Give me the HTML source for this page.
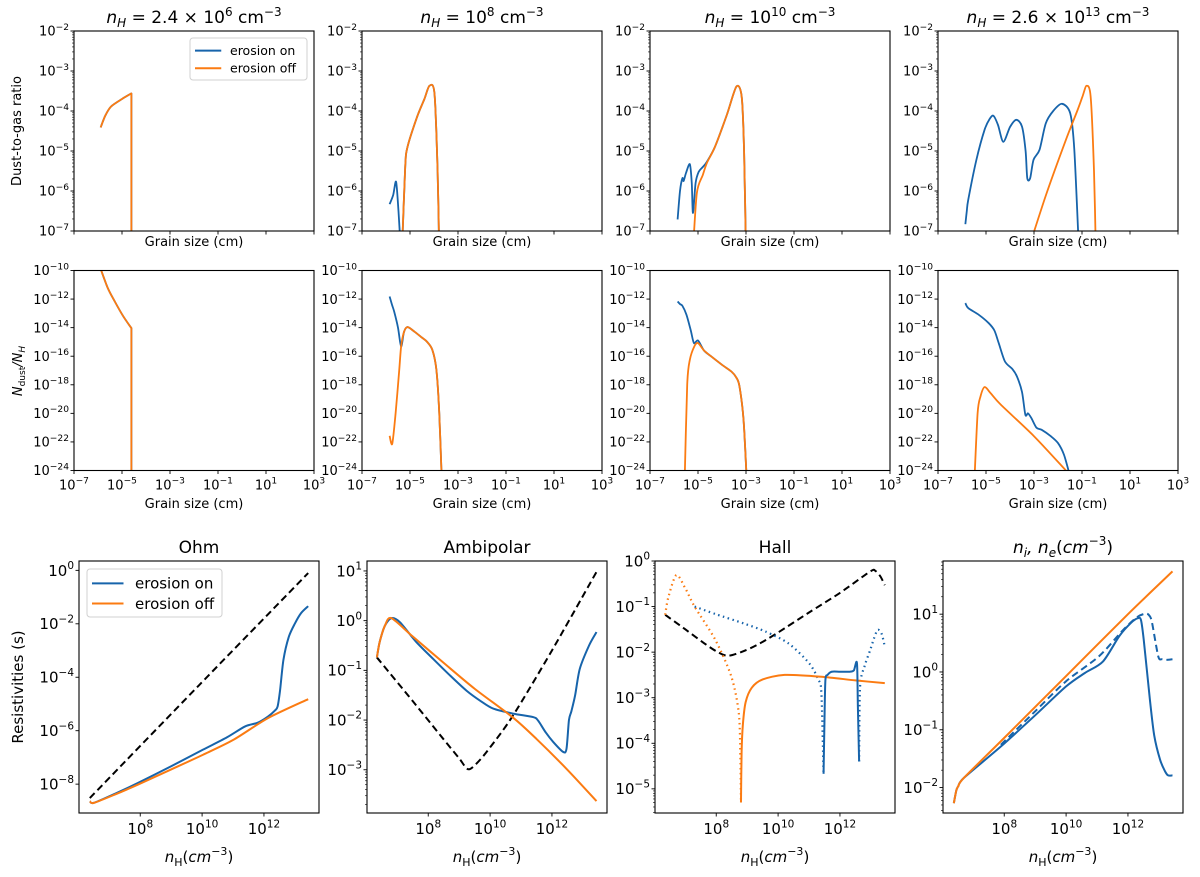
<!DOCTYPE html>
<html><head><meta charset="utf-8"><style>
html,body{margin:0;padding:0;background:#fff;}
svg{display:block;font-family:"DejaVu Sans","Liberation Sans",sans-serif;}
</style></head><body>
<svg id="fig" width="1200" height="877" viewBox="0 0 1200 877" xmlns="http://www.w3.org/2000/svg"></svg>
<script>
// ---------- DATA (log10 values) ----------
const p1TopX=[-5.89,-5.7,-5.46,-5.0,-4.61,-4.61];
const p1TopY=[-4.41,-4.12,-3.89,-3.7,-3.56,-7.6];
const p1BotX=[-5.95,-5.6,-5.3,-4.95,-4.61,-4.61];
const p1BotY=[-9.6,-11.2,-12.17,-13.2,-14.03,-25];
const p2TopOnX=[-5.85,-5.7,-5.58,-5.48,-5.37,-5.34,-5.2,-5.1,-4.7,-4.4,-4.19,-3.98,-3.85,-3.78];
const p2TopOnY=[-6.33,-6.1,-5.77,-6.5,-7.6,-7.6,-5.4,-4.89,-4.14,-3.7,-3.37,-3.56,-5.5,-7.6];
const p2TopOffX=[-5.34,-5.2,-5.1,-4.7,-4.4,-4.19,-3.98,-3.85,-3.78];
const p2TopOffY=[-7.6,-5.4,-4.89,-4.14,-3.7,-3.37,-3.56,-5.5,-7.6];
const p2BotOnX=[-5.85,-5.75,-5.66,-5.5,-5.37,-5.25,-5.1,-4.8,-4.5,-4.3,-4.07,-3.9,-3.78,-3.67];
const p2BotOnY=[-11.82,-12.4,-12.87,-14.0,-15.32,-14.3,-13.96,-14.3,-14.7,-14.97,-15.55,-16.95,-20,-25];
const p2BotOffX=[-5.85,-5.74,-5.6,-5.45,-5.37,-5.25,-5.1,-4.8,-4.5,-4.3,-4.07,-3.9,-3.78,-3.67];
const p2BotOffY=[-21.57,-22.13,-20,-17,-15.32,-14.3,-13.96,-14.3,-14.7,-14.97,-15.55,-16.95,-20,-25];
const p3TopOnX=[-5.85,-5.75,-5.65,-5.6,-5.5,-5.34,-5.26,-5.21,-5.1,-4.97,-4.8,-4.63,-4.29,-3.8,-3.40,-3.18,-3.08,-3.0];
const p3TopOnY=[-6.71,-6.0,-5.68,-5.75,-5.55,-5.33,-5.8,-6.55,-5.8,-5.52,-5.4,-5.27,-4.89,-4.1,-3.39,-3.64,-5.0,-7.6];
const p3TopOffX=[-5.22,-5.05,-4.8,-4.63,-4.29,-3.8,-3.40,-3.18,-3.08,-3.0];
const p3TopOffY=[-7.6,-6.06,-5.6,-5.3,-4.89,-4.1,-3.39,-3.64,-5.0,-7.6];
const p3BotOnX=[-5.85,-5.75,-5.65,-5.48,-5.3,-5.17,-5.0,-4.75,-4.46,-4.0,-3.61,-3.4,-3.27,-3.1,-2.96];
const p3BotOnY=[-12.17,-12.35,-12.47,-13.1,-14.2,-15.08,-14.9,-15.6,-16.0,-16.6,-17.07,-17.5,-18.12,-20.5,-25];
const p3BotOffX=[-5.56,-5.45,-5.34,-5.15,-5.0,-4.75,-4.46,-4.0,-3.61,-3.4,-3.27,-3.1,-2.96];
const p3BotOffY=[-25,-18,-16.25,-15.3,-15.08,-15.6,-16.0,-16.6,-17.07,-17.5,-18.12,-20.5,-25];
const p4TopOnX=[-5.86,-5.8,-5.74,-5.4,-5.06,-4.85,-4.69,-4.5,-4.28,-4.0,-3.74,-3.5,-3.35,-3.28,-3.16,-3.02,-2.77,-2.51,-2.2,-1.83,-1.49,-1.32,-1.12];
const p4TopOnY=[-6.83,-6.5,-6.22,-5.22,-4.47,-4.2,-4.12,-4.35,-4.77,-4.4,-4.22,-4.39,-5.0,-5.68,-5.68,-5.22,-4.97,-4.31,-4.0,-3.82,-4.06,-4.97,-7.6];
const p4TopOffX=[-3.31,-2.5,-1.67,-1.2,-0.98,-0.81,-0.64,-0.5,-0.42];
const p4TopOffY=[-7.6,-6.1,-4.72,-4.0,-3.64,-3.37,-3.64,-5.5,-7.6];
const p4BotOnX=[-5.86,-5.74,-5.3,-4.89,-4.65,-4.47,-4.21,-3.9,-3.71,-3.5,-3.36,-3.25,-3.11,-2.9,-2.68,-2.3,-2.0,-1.75,-1.53];
const p4BotOnY=[-12.28,-12.63,-13.1,-13.68,-14.2,-15.08,-16.37,-16.9,-17.42,-18.5,-20.1,-20.0,-20.33,-21.0,-21.15,-21.6,-22.08,-22.9,-24.2];
const p4BotOffX=[-5.49,-5.35,-5.23,-5.06,-4.8,-4.38,-3.0,-1.67,-1.5];
const p4BotOffY=[-25,-20,-18.82,-18.16,-18.6,-19.4,-21.6,-24,-24.3];
const ohmIdealX=[6.37,9.9,13.43];
const ohmIdealY=[-8.52,-4.3,-0.10];
const ohmOnX=[6.37,6.5,7.2,7.92,9.0,10.03,10.8,11.39,11.8,12.13,12.35,12.44,12.52,12.63,12.8,13.0,13.2,13.43];
const ohmOnY=[-8.64,-8.70,-8.35,-7.96,-7.33,-6.71,-6.25,-5.84,-5.7,-5.47,-5.25,-5.1,-4.5,-3.35,-2.5,-1.99,-1.6,-1.34];
const ohmOffX=[6.37,6.5,7.2,7.92,9.0,10.03,11.0,12.13,13.43];
const ohmOffY=[-8.64,-8.70,-8.38,-8.02,-7.45,-6.9,-6.35,-5.53,-4.82];
const ambIdealX=[6.34,7.5,8.5,9.0,9.29,9.6,10.0,10.74,12.0,13.44];
const ambIdealY=[-0.74,-1.62,-2.39,-2.77,-2.99,-2.85,-2.55,-1.91,-0.6,0.98];
const ambOnX=[6.34,6.43,6.6,6.81,7.08,7.6,8.16,8.7,9.24,9.7,10.10,10.74,11.39,11.55,11.8,12.04,12.36,12.47,12.55,12.63,12.75,12.9,13.2,13.44];
const ambOnY=[-0.74,-0.43,-0.1,0.05,-0.03,-0.42,-0.77,-1.1,-1.41,-1.62,-1.77,-1.87,-1.94,-2.01,-2.25,-2.44,-2.64,-2.58,-2.0,-1.82,-1.5,-0.97,-0.5,-0.23];
const ambOffX=[6.34,6.43,6.6,6.81,7.5,8.5,9.5,10.74,11.5,12.5,13.44];
const ambOffY=[-0.74,-0.43,-0.1,0.05,-0.32,-0.85,-1.37,-1.95,-2.38,-3.0,-3.63];
const hallIdealX=[6.35,7.0,7.6,8.0,8.36,8.8,9.3,9.95,11.0,12.0,12.98,13.15,13.31,13.45];
const hallIdealY=[-1.18,-1.5,-1.8,-1.98,-2.08,-2.0,-1.85,-1.59,-1.13,-0.7,-0.23,-0.22,-0.34,-0.53];
const hallOffNegX=[6.35,6.45,6.71,7.0,7.30,7.97,8.49,8.73,8.78,8.80];
const hallOffNegY=[-1.18,-0.8,-0.31,-0.6,-1.0,-1.73,-2.54,-3.34,-4.3,-5.3];
const hallOffPosX=[8.80,8.82,8.86,8.95,9.15,9.5,10.21,11.40,12.5,13.45];
const hallOffPosY=[-5.3,-4.2,-3.6,-3.1,-2.78,-2.6,-2.5,-2.54,-2.62,-2.68];
const hallOnNeg1X=[7.30,8.0,8.89,9.6,10.34,11.0,11.3,11.40,11.47];
const hallOnNeg1Y=[-1.0,-1.17,-1.37,-1.55,-1.81,-2.24,-2.6,-2.90,-4.67];
const hallOnPosX=[11.47,11.50,11.53,11.6,11.73,12.0,12.32,12.45,12.55,12.58,12.62];
const hallOnPosY=[-4.67,-3.5,-2.61,-2.5,-2.43,-2.43,-2.43,-2.4,-2.24,-3.2,-4.40];
const hallOnNeg2X=[12.62,12.65,12.8,12.98,13.1,13.22,13.35,13.45];
const hallOnNeg2Y=[-4.40,-2.76,-2.3,-1.95,-1.7,-1.51,-1.6,-1.88];
const nOffX=[6.37,6.45,6.51,6.70,8.0,10.0,12.0,13.44];
const nOffY=[-2.27,-2.05,-1.98,-1.83,-1.14,-0.07,1.0,1.74];
const nOnSolidX=[6.37,6.45,6.51,6.70,7.89,9.0,10.0,10.6,11.19,11.72,12.1,12.32,12.42,12.51,12.71,12.85,13.04,13.2,13.30,13.44];
const nOnSolidY=[-2.27,-2.05,-1.98,-1.83,-1.29,-0.75,-0.25,-0.02,0.18,0.62,0.85,0.93,0.9,0.56,-0.48,-1.1,-1.52,-1.72,-1.79,-1.79];
const nOnDashX=[7.89,9.0,10.0,11.06,11.85,12.3,12.58,12.7,12.78,12.98,13.1,13.24,13.44];
const nOnDashY=[-1.26,-0.68,-0.16,0.27,0.73,0.95,1.01,0.97,0.85,0.27,0.22,0.21,0.22];
const topXTicks=[-7,-5,-3,-1,1,3];
const row1YTicks=[-2,-3,-4,-5,-6,-7];
const row2YTicks=[-10,-12,-14,-16,-18,-20,-22,-24];
const botXTicks=[8,10,12];

// ---------- RENDER ----------
const NS="http://www.w3.org/2000/svg";
const svg=document.getElementById('fig');
const BLUE="#1764ab", ORANGE="#fb7b12";
function el(tag,attrs,parent){const e=document.createElementNS(NS,tag);for(const k in attrs)e.setAttribute(k,attrs[k]);(parent||svg).appendChild(e);return e;}
function pow10(parent,x,y,exp,size,anchor){
  const t=el('text',{x:x,y:y,'font-size':size,'text-anchor':anchor,fill:'#000'},parent);
  
  
  const a=document.createElementNS(NS,'tspan');a.textContent='10';t.appendChild(a);
  const b=document.createElementNS(NS,'tspan');b.setAttribute('dy',-size*0.45);b.setAttribute('font-size',size*0.7);
  b.textContent=String(exp).replace('-','\u2212');t.appendChild(b);
  return t;
}
let clipId=0;
function panel(name,x0,y0,w,h,xmin,xmax,ymin,ymax){
  const g=el('g',{});
  
  
  const P={g,x0,y0,w,h,xmin,xmax,ymin,ymax,
    fx:v=>x0+(v-xmin)/(xmax-xmin)*w, fy:v=>y0+h-(v-ymin)/(ymax-ymin)*h};
  const cid='c'+(clipId++);
  const cp=el('clipPath',{id:cid},g);el('rect',{x:x0,y:y0,width:w,height:h},cp);
  P.plot=el('g',{'clip-path':'url(#'+cid+')'},g);
  return P;
}
function frame(P){el('rect',{x:P.x0,y:P.y0,width:P.w,height:P.h,fill:'none',stroke:'#000','stroke-width':1.1},P.g);}
function smoothPath(pts){
  let d='M'+pts[0][0].toFixed(2)+','+pts[0][1].toFixed(2);
  const k=0.14;
  const vert=(a,b)=>Math.abs(a[0]-b[0])<0.01;
  for(let i=0;i<pts.length-1;i++){
    const p0=pts[Math.max(0,i-1)],p1=pts[i],p2=pts[i+1],p3=pts[Math.min(pts.length-1,i+2)];
    if(vert(p1,p2)){d+=' L'+p2[0].toFixed(2)+','+p2[1].toFixed(2);continue;}
    let c1=[p1[0]+(p2[0]-p0[0])*k,p1[1]+(p2[1]-p0[1])*k];
    let c2=[p2[0]-(p3[0]-p1[0])*k,p2[1]-(p3[1]-p1[1])*k];
    if(i>0&&vert(p0,p1))c1=p1;
    if(i+2<pts.length&&vert(p2,p3))c2=p2;
    d+=' C'+c1[0].toFixed(2)+','+c1[1].toFixed(2)+' '+c2[0].toFixed(2)+','+c2[1].toFixed(2)+' '+p2[0].toFixed(2)+','+p2[1].toFixed(2);
  }
  return d;
}
function line(P,xs,ys,color,name,dash,width){
  const pts=xs.map((v,i)=>[P.fx(v),P.fy(ys[i])]);
  const a={d:smoothPath(pts),fill:'none',stroke:color,'stroke-width':width||1.8,'stroke-linejoin':'round'};
  if(dash)a['stroke-dasharray']=dash;
  const pl=el('path',a,P.plot);
  
  
}
function yTicks(P,ticks,size,minor){
  ticks.forEach(t=>{const y=P.fy(t);el('line',{x1:P.x0-3.5,x2:P.x0,y1:y,y2:y,stroke:'#000','stroke-width':0.9},P.g);
    pow10(P.g,P.x0-5,y+size*0.36,t,size,'end');});
  if(minor){for(let d=Math.floor(P.ymin);d<Math.ceil(P.ymax);d++){for(let m=2;m<10;m++){const v=d+Math.log10(m);
    if(v>P.ymin&&v<P.ymax){const y=P.fy(v);el('line',{x1:P.x0-2,x2:P.x0,y1:y,y2:y,stroke:'#000','stroke-width':0.6},P.g);}}}}
}
function xTicks(P,ticks,size,labels){
  ticks.forEach(t=>{const x=P.fx(t);el('line',{x1:x,x2:x,y1:P.y0+P.h,y2:P.y0+P.h+3.5,stroke:'#000','stroke-width':0.9},P.g);
    if(labels)pow10(P.g,x,P.y0+P.h+size+6,t,size,'middle');});
}
function text(x,y,str,size,name,anchor,rot){
  const a={x:x,y:y,'font-size':size,'text-anchor':anchor||'middle',fill:'#000'};
  if(rot)a.transform='rotate(-90 '+x+' '+y+')';
  const t=el('text',a);t.textContent=str;
  
  
  return t;
}
function titleNH(cx,y,mant,exp,name){
  const t=el('text',{x:cx,y:y,'font-size':17,'text-anchor':'middle',fill:'#000'});
  
  
  const parts=[['n','italic',0,17],['H','italic',4,12],[' = '+(mant?mant+' \u00d7 ':'')+'10','normal',-4,17],[String(exp),'normal',-7,12],[' cm','normal',7,17],['\u22123','normal',-7,12]];
  parts.forEach(p=>{const s=document.createElementNS(NS,'tspan');s.textContent=p[0];s.setAttribute('font-style',p[1]);s.setAttribute('dy',p[2]);s.setAttribute('font-size',p[3]);t.appendChild(s);});
}
function legend(x,y,w,h,size,name){
  const g=el('g',{});
  
  
  el('rect',{x:x,y:y,width:w,height:h,rx:3,fill:'#fff',stroke:'#d0d0d0','stroke-width':1},g);
  [['erosion on',BLUE],['erosion off',ORANGE]].forEach((e,i)=>{
    const yy=y+h*(0.3+0.42*i);
    const ln=el('line',{x1:x+5,x2:x+5+size*2.1,y1:yy,y2:yy,stroke:e[1],'stroke-width':2},g);
    
    
    const t=el('text',{x:x+size*3.2,y:yy+size*0.35,'font-size':size,fill:'#000'},g);t.textContent=e[0];
    
    
  });
}

const topX=[74,362,650,938], W=240;
const topData=[
  [[p1TopX,p1TopY,p1TopX,p1TopY],[p1BotX,p1BotY,p1BotX,p1BotY]],
  [[p2TopOnX,p2TopOnY,p2TopOffX,p2TopOffY],[p2BotOnX,p2BotOnY,p2BotOffX,p2BotOffY]],
  [[p3TopOnX,p3TopOnY,p3TopOffX,p3TopOffY],[p3BotOnX,p3BotOnY,p3BotOffX,p3BotOffY]],
  [[p4TopOnX,p4TopOnY,p4TopOffX,p4TopOffY],[p4BotOnX,p4BotOnY,p4BotOffX,p4BotOffY]]];
const titles=[['2.4',6],['',8],['',10],['2.6',13]];
topX.forEach((x0,i)=>{
  const A=panel('dust-to-gas-panel-'+(i+1),x0,31,W,200,-7,3,-7,-2);
  const d=topData[i][0];
  line(A,d[0],d[1],BLUE,'erosion-on-line');line(A,d[2],d[3],ORANGE,'erosion-off-line');
  frame(A);yTicks(A,row1YTicks,13,true);xTicks(A,topXTicks,13,false);
  text(x0+W/2,246,'Grain size (cm)',13,'x-axis-title');
  titleNH(x0+W/2,23,titles[i][0],titles[i][1],'panel-title');
  const B=panel('ndust-panel-'+(i+1),x0,270.5,W,200,-7,3,-24,-10);
  const e=topData[i][1];
  line(B,e[0],e[1],BLUE,'erosion-on-line');line(B,e[2],e[3],ORANGE,'erosion-off-line');
  frame(B);yTicks(B,row2YTicks,13,false);xTicks(B,topXTicks,13,true);
  text(x0+W/2,508,'Grain size (cm)',13,'x-axis-title');
});
legend(190,38,117,42,12.5,'legend-top');
text(21,131,'Dust-to-gas ratio',13,'y-axis-title','middle',true);
(function(){const t=el('text',{x:22,y:371,'font-size':13,'text-anchor':'middle',transform:'rotate(-90 22 371)'});
  
  
  [['N','italic',0,13],['dust','normal',3,9],['/','italic',-3,13],['N','italic',0,13],['H','italic',3,9]].forEach(p=>{const s=document.createElementNS(NS,'tspan');s.textContent=p[0];s.setAttribute('font-style',p[1]);s.setAttribute('dy',p[2]);s.setAttribute('font-size',p[3]);t.appendChild(s);});})();

const botX=[79,367,655,943], BY=561, BH=252, XMIN=6.02, XMAX=13.78;
function nhLabel(cx){const t=el('text',{x:cx,y:862,'font-size':15,'text-anchor':'middle'});
  
  
  [['n','italic',0,15],['H','normal',4,11],['(','normal',-4,15],['cm','italic',0,15],['\u22123','normal',-7,11],[')','normal',7,15]].forEach(p=>{const s=document.createElementNS(NS,'tspan');s.textContent=p[0];s.setAttribute('font-style',p[1]);s.setAttribute('dy',p[2]);s.setAttribute('font-size',p[3]);t.appendChild(s);});}

const O=panel('ohm-panel',botX[0],BY,W,BH,XMIN,XMAX,-9.08,0.35);
line(O,ohmIdealX,ohmIdealY,'#000','ohm-ideal-line','7,4',2);
line(O,ohmOnX,ohmOnY,BLUE,'erosion-on-line',null,2);line(O,ohmOffX,ohmOffY,ORANGE,'erosion-off-line',null,2);
frame(O);yTicks(O,[0,-2,-4,-6,-8],15,false);xTicks(O,botXTicks,15,true);
legend(87,569,135,48,15,'legend-ohm');

const Am=panel('ambipolar-panel',botX[1],BY,W,BH,XMIN,XMAX,-3.87,1.2);
line(Am,ambIdealX,ambIdealY,'#000','ambipolar-ideal-line','7,4',2);
line(Am,ambOnX,ambOnY,BLUE,'erosion-on-line',null,2);line(Am,ambOffX,ambOffY,ORANGE,'erosion-off-line',null,2);
frame(Am);yTicks(Am,[1,0,-1,-2,-3],15,true);xTicks(Am,botXTicks,15,true);

const H=panel('hall-panel',botX[2],BY,W,BH,XMIN,XMAX,-5.53,0.0);
line(H,hallIdealX,hallIdealY,'#000','hall-ideal-line','7,4',2);
line(H,hallOffNegX,hallOffNegY,ORANGE,'erosion-off-negative-line','1.5,3.5',2.2);
line(H,hallOnNeg1X,hallOnNeg1Y,BLUE,'erosion-on-negative-line','1.5,3.5',2.2);
line(H,hallOnNeg2X,hallOnNeg2Y,BLUE,'erosion-on-negative-line','1.5,3.5',2.2);
line(H,hallOffPosX,hallOffPosY,ORANGE,'erosion-off-line',null,2);
line(H,hallOnPosX,hallOnPosY,BLUE,'erosion-on-line',null,2);
frame(H);yTicks(H,[0,-1,-2,-3,-4,-5],15,true);xTicks(H,botXTicks,15,true);

const N=panel('density-panel',botX[3],BY,W,BH,XMIN,XMAX,-2.44,1.92);
line(N,nOnDashX,nOnDashY,BLUE,'electron-density-line','7,4',2);
line(N,nOnSolidX,nOnSolidY,BLUE,'ion-density-line',null,2);
line(N,nOffX,nOffY,ORANGE,'erosion-off-line',null,2);
frame(N);yTicks(N,[1,0,-1,-2],15,true);xTicks(N,botXTicks,15,true);

text(botX[0]+W/2,553,'Ohm',17,'panel-title');
text(botX[1]+W/2,553,'Ambipolar',17,'panel-title');
text(botX[2]+W/2,553,'Hall',17,'panel-title');
(function(){const t=el('text',{x:botX[3]+W/2,y:553,'font-size':17,'text-anchor':'middle'});
  
  
  [['n','italic',0,17],['i','italic',4,12],[', ','italic',-4,17],['n','italic',0,17],['e','italic',4,12],['(','normal',-4,17],['cm','italic',0,17],['\u22123','normal',-8,12],[')','normal',8,17]].forEach(p=>{const s=document.createElementNS(NS,'tspan');s.textContent=p[0];s.setAttribute('font-style',p[1]);s.setAttribute('dy',p[2]);s.setAttribute('font-size',p[3]);t.appendChild(s);});})();
botX.forEach(x=>nhLabel(x+W/2));
text(23,687,'Resistivities (s)',15,'y-axis-title','middle',true);
</script>
</body></html>
